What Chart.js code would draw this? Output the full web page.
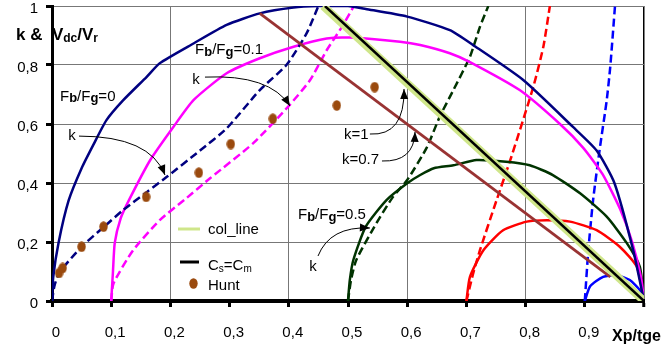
<!DOCTYPE html>
<html>
<head>
<meta charset="utf-8">
<script src="https://cdn.jsdelivr.net/npm/chart.js@4.4.1/dist/chart.umd.min.js"></script>
<style>
  html, body { margin: 0; padding: 0; background: #fff; }
  canvas { display: block; }
</style>
</head>
<body>
<canvas id="chart" width="665" height="352" style="width:665px;height:352px"></canvas>
<script>
// curves, [Xp/tge, value]
const fb0Curve = [[0,0],[0.002,0.08],[0.011,0.197],[0.028,0.34],[0.05,0.45],[0.07,0.53],[0.092,0.613],[0.12,0.68],[0.16,0.76],[0.182,0.806],[0.239,0.873],[0.295,0.936],[0.351,0.975],[0.408,0.995],[0.45,1.0],[0.5,1.0],[0.53,0.99],[0.6,0.964],[0.672,0.918],[0.711,0.868],[0.796,0.749],[0.88,0.59],[0.92,0.51],[0.95,0.4],[0.982,0.17],[1,0]];
const fb0K = [[0,0],[0.004,0.05],[0.012,0.095],[0.05,0.184],[0.087,0.25],[0.12,0.308],[0.16,0.369],[0.194,0.421],[0.25,0.51],[0.295,0.585],[0.351,0.715],[0.396,0.8],[0.43,0.907],[0.45,1.0]];
const fb01Curve = [[0.1,0],[0.103,0.1],[0.106,0.197],[0.116,0.28],[0.13,0.342],[0.166,0.478],[0.205,0.59],[0.239,0.681],[0.295,0.772],[0.351,0.823],[0.408,0.862],[0.464,0.89],[0.503,0.893],[0.588,0.879],[0.622,0.868],[0.672,0.84],[0.706,0.81],[0.79,0.715],[0.858,0.6],[0.897,0.52],[0.93,0.43],[0.96,0.31],[0.98,0.2],[0.995,0.08],[1,0]];
const fb01K = [[0.1,0],[0.104,0.06],[0.137,0.172],[0.182,0.274],[0.225,0.345],[0.267,0.416],[0.34,0.535],[0.399,0.659],[0.436,0.749],[0.464,0.85],[0.49,0.93],[0.51,1.0]];
const fb05Curve = [[0.5,0],[0.503,0.07],[0.509,0.139],[0.53,0.252],[0.565,0.342],[0.6,0.399],[0.622,0.427],[0.645,0.45],[0.678,0.46],[0.717,0.478],[0.767,0.472],[0.807,0.46],[0.846,0.427],[0.892,0.365],[0.937,0.286],[0.971,0.196],[0.993,0.116],[1,0]];
const fb05K = [[0.5,0],[0.505,0.07],[0.514,0.139],[0.548,0.264],[0.576,0.353],[0.6,0.41],[0.633,0.52],[0.655,0.625],[0.678,0.715],[0.706,0.828],[0.723,0.93],[0.737,1.0]];
const fb07Curve = [[0.7,0],[0.706,0.082],[0.729,0.173],[0.762,0.24],[0.802,0.269],[0.836,0.274],[0.875,0.269],[0.92,0.24],[0.959,0.184],[0.988,0.116],[1,0]];
const fb07K = [[0.7,0],[0.711,0.09],[0.723,0.173],[0.751,0.342],[0.776,0.489],[0.813,0.726],[0.83,0.862],[0.841,1.0]];
const fb09Curve = [[0.9,0],[0.909,0.05],[0.931,0.082],[0.953,0.088],[0.976,0.071],[0.993,0.037],[1,0]];
const fb09K = [[0.9,0],[0.906,0.173],[0.914,0.342],[0.925,0.512],[0.937,0.68],[0.943,0.794],[0.951,1.0]];
const k07Line = [[0.351,0.975],[0.943,0.082]];
const colLine = [[0.458,1.0],[1,0]];
const csCmLine = [[0.461,1.0],[1,0]];
const hunt = [[0.012,0.095],[0.018,0.112],[0.05,0.184],[0.087,0.252],[0.159,0.353],[0.248,0.435],[0.302,0.532],[0.373,0.618],[0.481,0.663],[0.545,0.725]];

const xTicks = [0,0.1,0.2,0.3,0.4,0.5,0.6,0.7,0.8,0.9,1];
const yTicks = [0,0.2,0.4,0.6,0.8,1];

const FONT = '"Liberation Sans", Arial, sans-serif';
const toPts = arr => arr.map(([x, y]) => ({ x, y }));
const fmt = v => {
  const r = Math.round(v * 10) / 10;
  if (r === 0 || r === 1) return String(r);
  return r.toFixed(1).replace('.', ',');
};

const line = (label, pts, color, dashed, width, order) => ({
  label,
  data: toPts(pts),
  borderColor: color,
  borderWidth: width || 2.5,
  borderDash: dashed ? [8, 4] : [],
  pointRadius: 0,
  tension: pts.length > 2 ? 0.2 : 0,
  fill: false,
  order: order || 3
});

// brown ellipse for the Hunt markers
const dot = document.createElement('canvas');
dot.width = 9; dot.height = 11;
const dctx = dot.getContext('2d');
dctx.fillStyle = '#9a4a0e';
dctx.beginPath();
dctx.ellipse(4.5, 5.5, 4.2, 5.2, 0, 0, Math.PI * 2);
dctx.fill();

const datasets = [
  { label: 'Hunt', data: toPts(hunt), showLine: false, pointStyle: dot, pointRadius: 5, borderColor: '#9a4a0e', backgroundColor: '#9a4a0e', order: 0 },
  line('Cs=Cm', csCmLine, '#000000', false, 2.5, 1),
  line('col_line', colLine, '#cfe68a', false, 8, 2),
  line('k=0.7', k07Line, '#993333', false, 2.8),
  line('Fb/Fg=0', fb0Curve, '#000080', false),
  line('k Fb/Fg=0', fb0K, '#000080', true),
  line('Fb/Fg=0.1', fb01Curve, '#ff00ff', false),
  line('k Fb/Fg=0.1', fb01K, '#ff00ff', true),
  line('Fb/Fg=0.5', fb05Curve, '#003300', false),
  line('k Fb/Fg=0.5', fb05K, '#003300', true),
  line('Fb/Fg=0.7', fb07Curve, '#ff0000', false),
  line('k Fb/Fg=0.7', fb07K, '#ff0000', true),
  line('Fb/Fg=0.9', fb09Curve, '#0000ff', false),
  line('k Fb/Fg=0.9', fb09K, '#0000ff', true)
];

// draw a run of text pieces: [text, font, dy]
const richText = (ctx, x, y, parts) => {
  let cx = x;
  for (const [txt, font, dy] of parts) {
    ctx.font = font;
    ctx.fillText(txt, cx, y + (dy || 0));
    cx += ctx.measureText(txt).width;
  }
};

const arrow = (ctx, x0, y0, cx, cy, x1, y1) => {
  ctx.beginPath();
  ctx.moveTo(x0, y0);
  ctx.quadraticCurveTo(cx, cy, x1, y1);
  ctx.stroke();
  const a = Math.atan2(y1 - cy, x1 - cx);
  const len = 10, hw = 4;
  ctx.beginPath();
  ctx.moveTo(x1, y1);
  ctx.lineTo(x1 - len * Math.cos(a) + hw * Math.sin(a), y1 - len * Math.sin(a) - hw * Math.cos(a));
  ctx.lineTo(x1 - len * Math.cos(a) - hw * Math.sin(a), y1 - len * Math.sin(a) + hw * Math.cos(a));
  ctx.closePath();
  ctx.fill();
};

const fbLabel = (ctx, x, y, tail) => richText(ctx, x, y, [
  ['F', '15px ' + FONT, 0], ['b', 'bold 13px ' + FONT, 2],
  ['/F', '15px ' + FONT, 0], ['g', 'bold 13px ' + FONT, 2],
  [tail, '15px ' + FONT, 0]
]);

const notes = {
  id: 'notes',
  afterDatasetsDraw(chart) {
    const { ctx } = chart;
    const xs = chart.scales.x, ys = chart.scales.y;
    const px = v => xs.getPixelForValue(v), py = v => ys.getPixelForValue(v);
    ctx.save();
    ctx.fillStyle = '#000';
    ctx.strokeStyle = '#000';
    ctx.lineWidth = 1;
    ctx.textBaseline = 'middle';
    ctx.textAlign = 'left';

    // axis titles
    richText(ctx, 16, 35, [
      ['k &', 'bold 17px ' + FONT, 0], ['  V', 'bold 17px ' + FONT, 0],
      ['dc', 'bold 12px ' + FONT, 4], ['/V', 'bold 17px ' + FONT, 0],
      ['r', 'bold 12px ' + FONT, 4]
    ]);
    ctx.font = 'bold 16px ' + FONT;
    ctx.fillText('Xp/tge', 612, 337);

    // curve labels
    fbLabel(ctx, px(0.0135), py(0.692), '=0');
    fbLabel(ctx, px(0.2416), py(0.851), '=0.1');
    fbLabel(ctx, px(0.4155), py(0.2915), '=0.5');

    ctx.font = '15px ' + FONT;
    ctx.textAlign = 'center';
    ctx.fillText('k', px(0.0338), py(0.559));
    ctx.fillText('k', px(0.2432), py(0.749));
    ctx.fillText('k', px(0.4409), py(0.1153));
    ctx.textAlign = 'left';
    ctx.fillText('k=1', px(0.4932), py(0.5627));
    ctx.fillText('k=0.7', px(0.4899), py(0.478));

    arrow(ctx, px(0.0456), py(0.559), px(0.1655), py(0.559), px(0.1909), py(0.427));
    arrow(ctx, px(0.2584), py(0.759), px(0.368), py(0.769), px(0.402), py(0.661));
    arrow(ctx, px(0.537), py(0.566), px(0.596), py(0.559), px(0.5946), py(0.7186));
    arrow(ctx, px(0.5574), py(0.4746), px(0.6115), py(0.471), px(0.6132), py(0.5729));
    arrow(ctx, px(0.4493), py(0.1525), px(0.4696), py(0.254), px(0.537), py(0.2475));

    // legend
    ctx.lineWidth = 3;
    ctx.strokeStyle = '#cfe68a';
    ctx.beginPath(); ctx.moveTo(178, 229); ctx.lineTo(200, 229); ctx.stroke();
    ctx.strokeStyle = '#000';
    ctx.beginPath(); ctx.moveTo(180, 262); ctx.lineTo(199, 262); ctx.stroke();
    ctx.drawImage(dot, 189, 278);
    ctx.font = '15px ' + FONT;
    ctx.fillText('col_line', 208, 230);
    richText(ctx, 208, 266, [
      ['C', '15px ' + FONT, 0], ['s', '10px ' + FONT, 3],
      ['=C', '15px ' + FONT, 0], ['m', '10px ' + FONT, 3]
    ]);
    ctx.font = '15px ' + FONT;
    ctx.fillText('Hunt', 208, 286);
    ctx.restore();
  }
};

const tickVal = c => Math.round(c.tick.value * 10) / 10;

new Chart(document.getElementById('chart'), {
  type: 'line',
  data: { datasets },
  options: {
    responsive: false,
    animation: false,
    events: [],
    layout: { padding: { left: 0, right: 21, top: 6, bottom: 0 } },
    plugins: { legend: { display: false }, tooltip: { enabled: false } },
    scales: {
      x: {
        type: 'linear',
        min: 0, max: 1,
        afterBuildTicks: a => { a.ticks = xTicks.map(v => ({ value: v })); },
        afterFit: a => { a.height = 51; a.paddingLeft = 0; a.paddingRight = 0; },
        ticks: {
          color: '#000',
          font: { family: FONT, size: 15 },
          padding: 17,
          labelOffset: 4,
          maxRotation: 0,
          autoSkip: false,
          callback: v => (Math.round(v * 10) === 10 ? '' : fmt(v))
        },
        grid: {
          color: c => {
            const v = tickVal(c);
            if (v === 1) return '#000';
            if (v > 0 && Math.round(v * 10) % 2 === 0) return '#777';
            return 'rgba(0,0,0,0)';
          },
          lineWidth: c => (tickVal(c) === 1 ? 1.5 : 1),
          tickColor: '#000',
          tickLength: 6,
          tickWidth: 3
        },
        border: { display: true, color: '#000', width: 4 }
      },
      y: {
        min: 0, max: 1,
        afterBuildTicks: a => { a.ticks = yTicks.map(v => ({ value: v })); },
        afterFit: a => { a.width = 52; a.paddingTop = 0; a.paddingBottom = 0; },
        ticks: {
          color: '#000',
          font: { family: FONT, size: 15 },
          padding: 8,
          labelOffset: 3,
          callback: v => fmt(v)
        },
        grid: {
          color: c => (tickVal(c) === 0 ? 'rgba(0,0,0,0)' : '#777'),
          lineWidth: 1,
          tickColor: '#000',
          tickLength: 6,
          tickWidth: 3
        },
        border: { display: true, color: '#000', width: 3 }
      }
    }
  },
  plugins: [notes]
});
</script>
</body>
</html>
